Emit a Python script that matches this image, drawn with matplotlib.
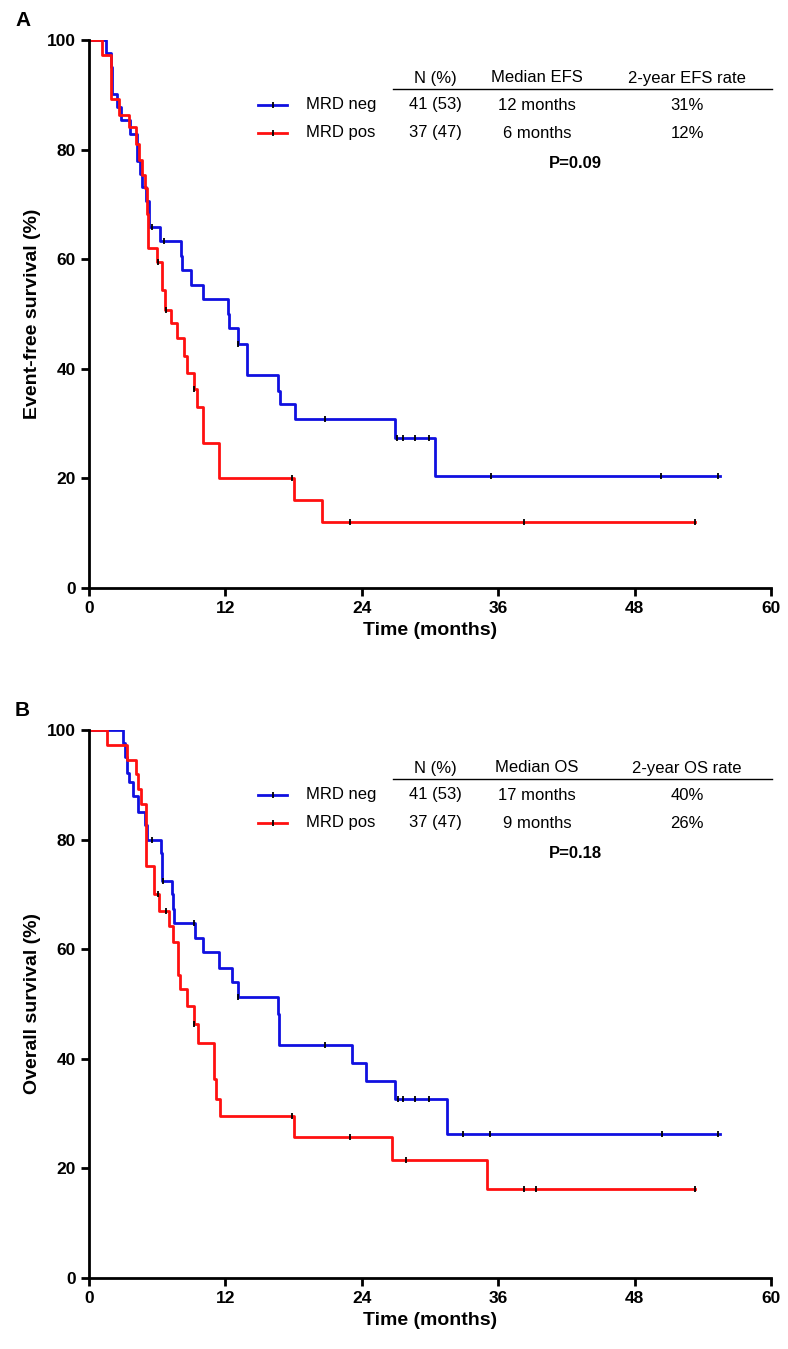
import matplotlib
matplotlib.use("Agg")
import matplotlib.pyplot as plt

# ---- data (time in months, survival %) ----
efs_neg_t = [0, 1.5, 1.9, 2.0, 2.5, 2.8, 3.6, 4.2, 4.5, 4.7, 5.0, 5.3, 6.25, 8.1, 8.15, 9.0, 10.0, 12.2, 12.3, 13.1, 13.9, 16.6, 16.8, 18.1, 26.9, 30.4]
efs_neg_s = [100, 97.6, 95.1, 90.2, 87.8, 85.4, 82.9, 78.0, 75.6, 73.2, 70.7, 65.9, 63.3, 60.5, 58.0, 55.3, 52.7, 50.0, 47.4, 44.6, 38.9, 36.0, 33.5, 30.8, 27.3, 20.4]
efs_neg_end = 55.5
efs_neg_ct = [5.5, 6.6, 13.1, 20.8, 27.1, 27.6, 28.7, 29.9, 35.4, 50.3, 55.3]

efs_pos_t = [0, 1.1, 1.9, 2.6, 3.5, 4.1, 4.4, 4.7, 4.9, 5.1, 5.2, 6.0, 6.4, 6.7, 7.2, 7.7, 8.4, 8.6, 9.2, 9.5, 10.0, 11.4, 18.0, 20.5]
efs_pos_s = [100, 97.3, 89.2, 86.3, 84.2, 81.1, 78.1, 75.4, 73.0, 68.3, 62.0, 59.4, 54.4, 50.8, 48.3, 45.6, 42.3, 39.2, 36.3, 33.1, 26.4, 20.0, 16.0, 12.0]
efs_pos_end = 53.3
efs_pos_ct = [6.1, 6.8, 9.2, 17.9, 23.0, 38.3, 53.3]

os_neg_t = [0, 3.0, 3.2, 3.3, 3.5, 3.9, 4.3, 4.9, 5.1, 6.3, 6.4, 7.3, 7.4, 7.5, 9.3, 10.0, 11.4, 12.6, 13.1, 16.6, 16.7, 23.1, 24.4, 26.9, 31.5]
os_neg_s = [100, 97.6, 95.0, 92.1, 90.6, 87.9, 85.1, 82.7, 80.0, 77.5, 72.4, 70.0, 67.3, 64.8, 62.0, 59.4, 56.5, 54.0, 51.2, 48.2, 42.6, 39.3, 36.0, 32.7, 26.3]
os_neg_end = 55.5
os_neg_ct = [5.5, 6.5, 9.2, 13.1, 20.8, 27.2, 27.6, 28.7, 29.9, 32.9, 35.3, 50.4, 55.3]

os_pos_t = [0, 1.6, 3.3, 4.1, 4.3, 4.6, 5.0, 5.7, 6.2, 7.0, 7.4, 7.8, 8.0, 8.6, 9.2, 9.6, 11.0, 11.2, 11.5, 18.0, 26.7, 35.0]
os_pos_s = [100, 97.3, 94.6, 91.9, 89.2, 86.5, 75.2, 70.0, 67.0, 64.2, 61.3, 55.3, 52.7, 49.7, 46.4, 42.8, 36.4, 32.7, 29.6, 25.8, 21.6, 16.2]
os_pos_end = 53.3
os_pos_ct = [6.1, 6.8, 9.2, 17.9, 23.0, 27.9, 38.3, 39.3, 53.3]

x_ticks = [0, 12, 24, 36, 48, 60]
y_ticks = [0, 20, 40, 60, 80, 100]

panels = [
    dict(letter="A", ylabel="Event-free survival (%)", what="EFS",
         neg=(efs_neg_t, efs_neg_s, efs_neg_end, efs_neg_ct),
         pos=(efs_pos_t, efs_pos_s, efs_pos_end, efs_pos_ct),
         medians=["12 months", "6 months"], rates=["31%", "12%"], p="P=0.09"),
    dict(letter="B", ylabel="Overall survival (%)", what="OS",
         neg=(os_neg_t, os_neg_s, os_neg_end, os_neg_ct),
         pos=(os_pos_t, os_pos_s, os_pos_end, os_pos_ct),
         medians=["17 months", "9 months"], rates=["40%", "26%"], p="P=0.18"),
]
group_n = ["41 (53)", "37 (47)"]
group_names = ["MRD neg", "MRD pos"]
colors = ["#1010e0", "#ff1010"]

plt.rcParams["font.family"] = ["Liberation Sans", "DejaVu Sans"]
W, H = 788, 1349
fig = plt.figure(figsize=(W / 100, H / 100), dpi=100)
tops = [40, 730]
ax_h = 548


def surv_at(t, s, x):
    v = s[0]
    for ti, si in zip(t, s):
        if ti <= x:
            v = si
    return v


for pan, top in zip(panels, tops):
    ax = fig.add_axes([89 / W, 1 - (top + ax_h) / H, (771 - 89) / W, ax_h / H])
    for (t, s, end, ct), c in zip([pan["neg"], pan["pos"]], colors):
        ax.step(t + [end], s + [s[-1]], where="post", color=c, lw=2)
        cy = [surv_at(t, s, x) for x in ct]
        ax.plot(ct, cy, ls="none", marker="|", color="black", ms=5, mew=1.3)
    ax.set_xlim(0, 60)
    ax.set_ylim(0, 100)
    ax.set_xticks(x_ticks)
    ax.set_yticks(y_ticks)
    for sp in ["top", "right"]:
        ax.spines[sp].set_visible(False)
    for sp in ["left", "bottom"]:
        ax.spines[sp].set_linewidth(2)
    ax.tick_params(width=2, length=6, labelsize=12.5)
    for lab in ax.get_xticklabels() + ax.get_yticklabels():
        lab.set_fontweight("bold")
    ax.set_xlabel("Time (months)", fontsize=14, fontweight="bold")
    ax.set_ylabel(pan["ylabel"], fontsize=14, fontweight="bold")
    fig.text(15 / W, 1 - (top - 20) / H, pan["letter"], fontsize=15,
             fontweight="bold", va="center")

    # table
    fs = 12
    hy = 78 - 40 + top
    fig.text(435 / W, 1 - hy / H, "N (%)", ha="center", va="center", fontsize=fs)
    fig.text(537 / W, 1 - hy / H, "Median " + pan["what"], ha="center", va="center", fontsize=fs)
    fig.text(687 / W, 1 - hy / H, "2-year " + pan["what"] + " rate", ha="center", va="center", fontsize=fs)
    ly = 1 - (89 - 40 + top) / H
    fig.add_artist(plt.Line2D([393 / W, 772 / W], [ly, ly], color="black", lw=1))
    for i, ry in enumerate([105, 133]):
        yy = 1 - (ry - 40 + top) / H
        fig.add_artist(plt.Line2D([258 / W, 287 / W], [yy, yy], color=colors[i], lw=2))
        fig.add_artist(plt.Line2D([272.5 / W], [yy], marker="|", color="black", ms=5, mew=1.3))
        fig.text(306 / W, yy, group_names[i], va="center", fontsize=fs)
        fig.text(435 / W, yy, group_n[i], ha="center", va="center", fontsize=fs)
        fig.text(537 / W, yy, pan["medians"][i], ha="center", va="center", fontsize=fs)
        fig.text(687 / W, yy, pan["rates"][i], ha="center", va="center", fontsize=fs)
    py = 1 - (163 - 40 + top) / H
    fig.text(575 / W, py, pan["p"], ha="center", va="center", fontsize=fs, fontweight="bold")

fig.savefig("out.png", dpi=100)
